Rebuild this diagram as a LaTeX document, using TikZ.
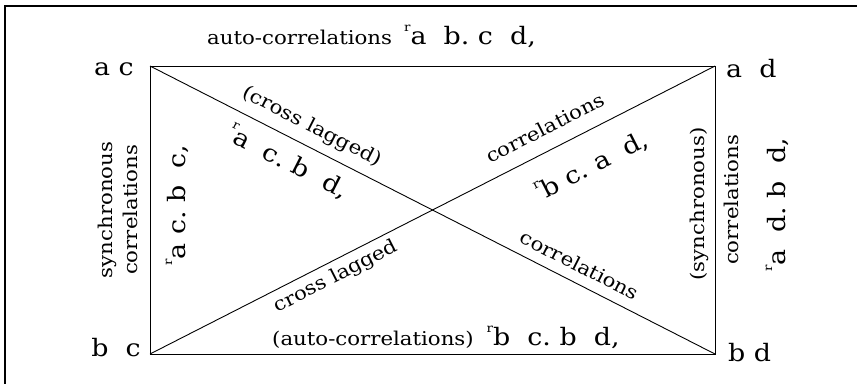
\documentclass[tikz,border=0pt]{standalone}
\usepackage{fontspec}
\setmainfont[FakeStretch=1.12]{DejaVu Serif}
\frenchspacing
\newcommand{\vars}{\fontsize{24}{28}\selectfont}
\newcommand{\words}{\fontsize{19}{24}\selectfont}
\newcommand{\rsup}{\raisebox{13pt}{\fontsize{12}{12}\selectfont r}}

\begin{document}
\begin{tikzpicture}[x=1pt,y=-1pt,
    edge/.style={line width=0.9pt},
    frame/.style={line width=1.3pt},
    term/.style={font=\vars,inner sep=0pt},
    tag/.style={font=\words,inner sep=0pt}]
  \useasboundingbox (0,0) rectangle (857,384);
  \draw[frame] (857,6) -- (5,6) -- (5,384);

  % corners of the panel
  \coordinate (ac) at (150,66);
  \coordinate (ad) at (715,66);
  \coordinate (bc) at (150,354);
  \coordinate (bd) at (715,354);
  \draw[edge] (ac) -- (ad) -- (bd) -- (bc) -- cycle;
  \draw[edge] (ac) -- (bd);
  \draw[edge] (bc) -- (ad);

  \node[term,anchor=base east] (lac) at (134,75) {a c};
  \node[term,anchor=base west] (lad) at (726,77) {a~~d};
  \node[term,anchor=base east] (lbc) at (141,356) {b~~c};
  \node[term,anchor=base west] (lbd) at (728,361) {b d};

  % top and bottom
  \node[tag,anchor=base west] (top) at (207,44)
    {auto-correlations\hspace{12pt}\vars\rsup a~~b. c~~d,};
  \node[tag,anchor=base west] (bottom) at (272,345)
    {(auto-correlations)\hspace{13pt}\vars\rsup b~~c. b~~d,};

  % diagonals
  \node[tag,rotate=-27] (lagA) at (312,127) {(cross lagged)};
  \node[term,rotate=-27] (rACBD) at (288,162) {\rsup a~~c. b~~d,};
  \node[tag,rotate=27] (corrA) at (545,128) {correlations};
  \node[term,rotate=27] (rBCAD) at (592,166) {\rsup b~c. a~~d,};
  \node[tag,rotate=27] (lagB) at (336,277) {cross lagged};
  \node[tag,rotate=-27] (corrB) at (580,265) {correlations};

  % sides
  \node[tag,rotate=90,align=center] (syncL) at (118,210)
    {synchronous\\[1pt]correlations};
  \node[term,rotate=90] (rACBC) at (177,205) {\rsup a~c. b~~c,};
  \node[tag,rotate=90] (syncR) at (699,204) {(synchronous)};
  \node[tag,rotate=90] (corrR) at (731,200) {correlations};
  \node[term,rotate=90] (rADBD) at (777,205) {\rsup a~~d. b~~d,};
\end{tikzpicture}
\end{document}
